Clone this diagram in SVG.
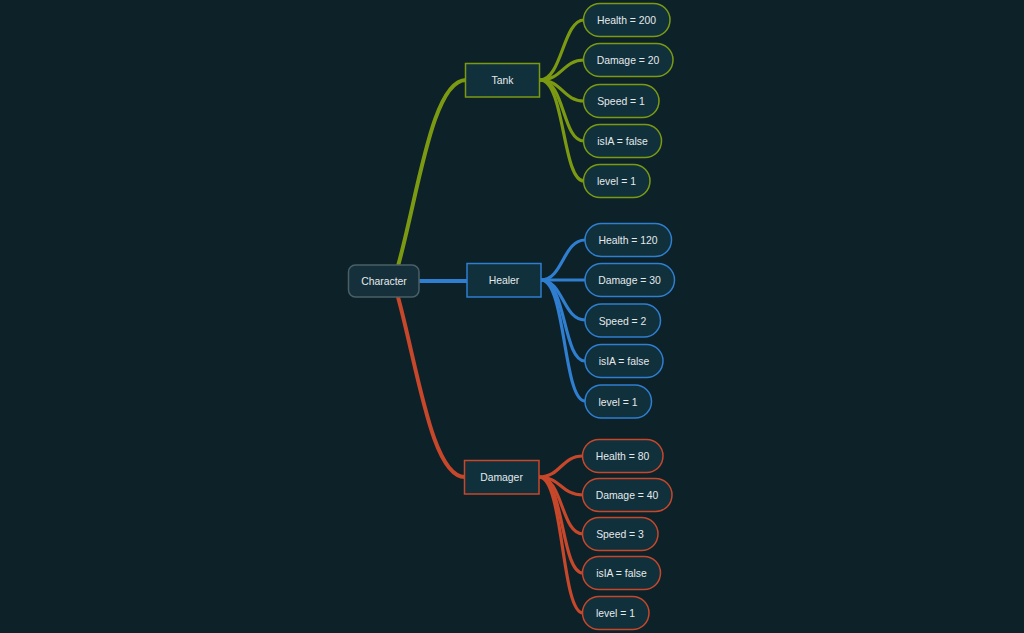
<svg xmlns="http://www.w3.org/2000/svg" width="1024" height="633" viewBox="0 0 1024 633">
  <style>
    .bg { fill: #0d2129; }
    .root rect { fill: #15303a; stroke: #4b5f66; stroke-width: 1.5; }
    .box { fill: #10303b; stroke-width: 1.5; }
    .leaf { fill: #10303b; stroke-width: 1.5; }
    text { font-family: "Liberation Sans", Arial, sans-serif; font-size: 10.4px; fill: #e4eaec; text-anchor: middle; dominant-baseline: central; }
    .g { stroke: #7b9a12; }
    .b { stroke: #2f7ed0; }
    .r { stroke: #c6472a; }
    #connectors path { fill: none; stroke-linecap: round; }
    .main { stroke-width: 4; }
    .sub { stroke-width: 3.2; }
  </style>
  <rect class="bg" width="1024" height="633"/>

  <g id="connectors">
    <!-- root to categories -->
    <path class="main g" d="M398,266 C418,195 432,80 466,80"/>
    <path class="main b" d="M419,281 L467,281"/>
    <path class="main r" d="M398,297 C418,370 432,477 465,477"/>
    <!-- Tank attributes -->
    <path class="sub g" d="M540,80 C562,80 563,20 584,20"/>
    <path class="sub g" d="M540,80 C562,80 563,60 584,60"/>
    <path class="sub g" d="M540,80 C562,80 563,101 584,101"/>
    <path class="sub g" d="M540,80 C565,80 562,141 584,141"/>
    <path class="sub g" d="M540,80 C565,80 562,181 584,181"/>
    <!-- Healer attributes -->
    <path class="sub b" d="M541,280 C563,280 563,240 585,240"/>
    <path class="sub b" d="M541,280 L585,280"/>
    <path class="sub b" d="M541,280 C563,280 563,320 585,320"/>
    <path class="sub b" d="M541,280 C566,280 563,361 585,361"/>
    <path class="sub b" d="M541,280 C566,280 563,401 585,401"/>
    <!-- Damager attributes -->
    <path class="sub r" d="M539,477 C561,477 561,456 583,456"/>
    <path class="sub r" d="M539,477 C561,477 561,495 583,495"/>
    <path class="sub r" d="M539,477 C563,477 561,534 583,534"/>
    <path class="sub r" d="M539,477 C564,477 561,573 583,573"/>
    <path class="sub r" d="M539,477 C564,477 561,613 583,613"/>
  </g>

  <g id="character" class="root">
    <rect x="348.5" y="265" width="70.5" height="32" rx="7"/>
    <text x="384" y="281.5">Character</text>
  </g>

  <g id="tank">
    <rect class="box g" x="465.5" y="63.5" width="74" height="33.5"/>
    <text x="502.5" y="80.5">Tank</text>
  </g>
  <g id="healer">
    <rect class="box b" x="467" y="263.5" width="74" height="33.5"/>
    <text x="504" y="280.5">Healer</text>
  </g>
  <g id="damager">
    <rect class="box r" x="464.5" y="460.5" width="74.5" height="33.5"/>
    <text x="501.5" y="477.5">Damager</text>
  </g>

  <!-- Tank attributes -->
  <g id="tank-health"><rect class="leaf g" x="583.5" y="3.5" width="86.5" height="33" rx="16.5"/><text x="626.5" y="20.5">Health = 200</text></g>
  <g id="tank-damage"><rect class="leaf g" x="583.5" y="43.5" width="89.5" height="33" rx="16.5"/><text x="628" y="60.5">Damage = 20</text></g>
  <g id="tank-speed"><rect class="leaf g" x="583.5" y="84.5" width="75.5" height="33" rx="16.5"/><text x="621" y="101.5">Speed = 1</text></g>
  <g id="tank-isia"><rect class="leaf g" x="583.5" y="124.5" width="78" height="33" rx="16.5"/><text x="622.5" y="141.5">isIA = false</text></g>
  <g id="tank-level"><rect class="leaf g" x="583.5" y="164.5" width="66.5" height="33" rx="16.5"/><text x="616.5" y="181.5">level = 1</text></g>

  <!-- Healer attributes -->
  <g id="healer-health"><rect class="leaf b" x="585" y="223.5" width="86.5" height="33" rx="16.5"/><text x="628" y="240.5">Health = 120</text></g>
  <g id="healer-damage"><rect class="leaf b" x="585" y="263.5" width="89.5" height="33" rx="16.5"/><text x="629.5" y="280.5">Damage = 30</text></g>
  <g id="healer-speed"><rect class="leaf b" x="585" y="304" width="75.5" height="33" rx="16.5"/><text x="622.5" y="321">Speed = 2</text></g>
  <g id="healer-isia"><rect class="leaf b" x="585" y="344.5" width="78" height="33" rx="16.5"/><text x="624" y="361.5">isIA = false</text></g>
  <g id="healer-level"><rect class="leaf b" x="585" y="385" width="66.5" height="33" rx="16.5"/><text x="618" y="402">level = 1</text></g>

  <!-- Damager attributes -->
  <g id="damager-health"><rect class="leaf r" x="582.5" y="439.5" width="80.5" height="33" rx="16.5"/><text x="622.5" y="456.5">Health = 80</text></g>
  <g id="damager-damage"><rect class="leaf r" x="582.5" y="478.5" width="89.5" height="33" rx="16.5"/><text x="627" y="495.5">Damage = 40</text></g>
  <g id="damager-speed"><rect class="leaf r" x="582.5" y="517.5" width="75.5" height="33" rx="16.5"/><text x="620" y="534.5">Speed = 3</text></g>
  <g id="damager-isia"><rect class="leaf r" x="582.5" y="556.5" width="78" height="33" rx="16.5"/><text x="621.5" y="573.5">isIA = false</text></g>
  <g id="damager-level"><rect class="leaf r" x="582.5" y="596.5" width="66.5" height="33" rx="16.5"/><text x="615.5" y="613.5">level = 1</text></g>
</svg>
